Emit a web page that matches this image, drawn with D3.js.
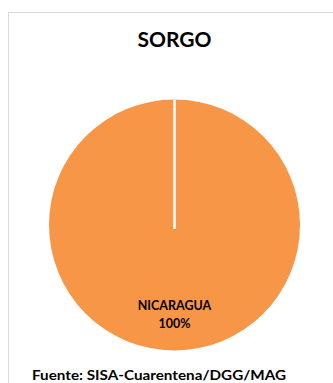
<!DOCTYPE html>
<html><head><meta charset="utf-8">
<script src="https://cdn.jsdelivr.net/npm/d3@7"></script>
<style>html,body{margin:0;padding:0;background:#fff;overflow:hidden}</style>
</head><body>
<svg id="c" width="333" height="383"></svg>
<script>
const title = "SORGO";
const categories = ["NICARAGUA"];
const values = [100];
const source = "Fuente: SISA-Cuarentena/DGG/MAG";

const svg = d3.select("#c");
const font = "Lato, 'Open Sans', sans-serif";
svg.append("rect").attr("x", 8.5).attr("y", 12.5).attr("width", 340).attr("height", 400)
  .attr("fill", "#fff").attr("stroke", "#d9d9d9").attr("stroke-width", 1);

svg.append("text").attr("x", 174.5).attr("y", 47).attr("text-anchor", "middle")
  .attr("font-family", font).attr("font-weight", 700).attr("font-size", 21).attr("fill", "#000").text(title);

const cx = 174.5, cy = 225, r = 125.5;
const pie = d3.pie().sort(null)(values);
const arc = d3.arc().innerRadius(0).outerRadius(r);
const g = svg.append("g").attr("transform", `translate(${cx},${cy})`);
g.selectAll("path").data(pie).join("path").attr("d", arc).attr("fill", "#F79646");
pie.forEach(d => {
  const a = d.startAngle;
  g.append("line").attr("x1", 0).attr("y1", 4)
    .attr("x2", r * Math.sin(a)).attr("y2", -r * Math.cos(a))
    .attr("stroke", "#fff").attr("stroke-width", 2.5);
});
pie.forEach((d, i) => {
  const t = g.append("text").attr("text-anchor", "middle")
    .attr("font-family", font).attr("font-weight", 700).attr("font-size", 12.5).attr("fill", "#000");
  t.append("tspan").attr("x", 0).attr("y", 85).text(categories[i]);
  t.append("tspan").attr("x", 0).attr("y", 102.7).text(d3.format(".0f")(values[i] / d3.sum(values) * 100) + "%");
});

svg.append("text").attr("x", 32).attr("y", 380)
  .attr("font-family", font).attr("font-weight", 700).attr("font-size", 12.5).attr("fill", "#000")
  .attr("textLength", 254).attr("lengthAdjust", "spacingAndGlyphs").text(source);
</script>
</body></html>
